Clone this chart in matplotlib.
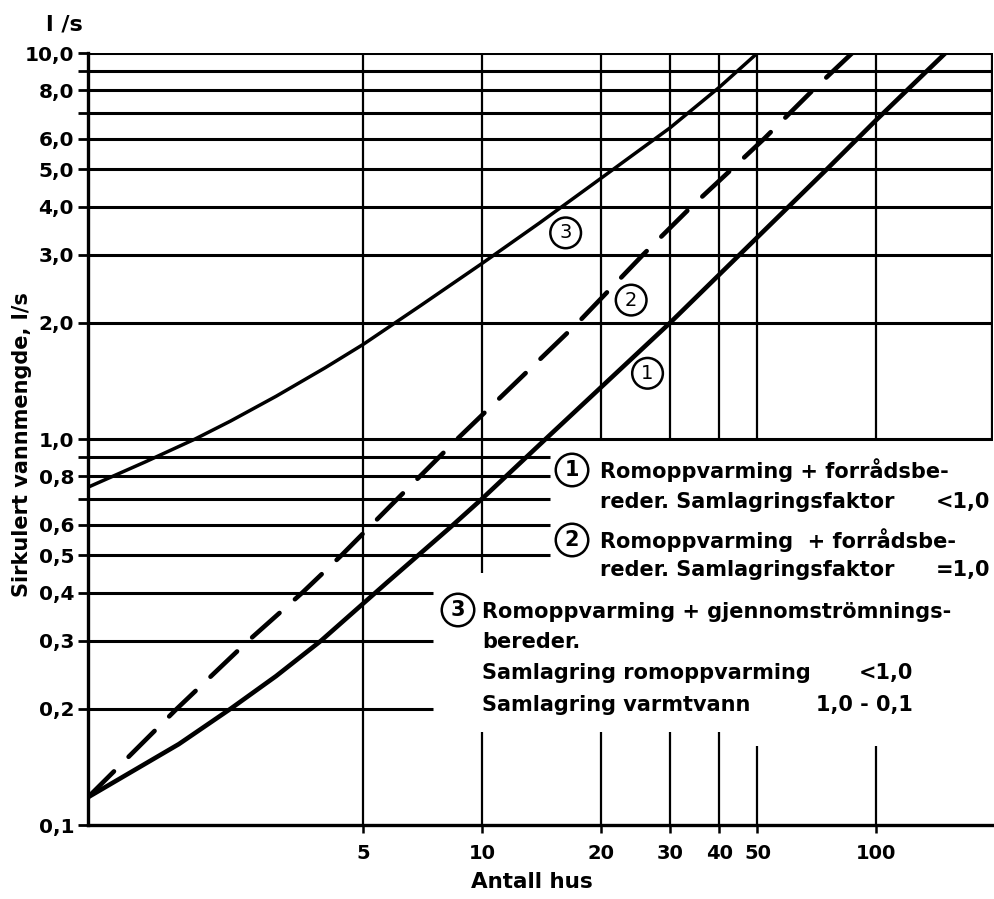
import matplotlib
matplotlib.use('Agg')
import matplotlib.pyplot as plt

# kurver lest av diagrammet (antall hus -> l/s)
kurve1_x = [1, 1.7, 2.3, 3.0, 3.9, 5.74, 8.3, 10, 14.5, 30, 45, 60, 75, 100, 150]
kurve1_y = [0.118, 0.162, 0.2, 0.243, 0.3, 0.425, 0.59, 0.7, 1.0, 2.0, 3.0, 4.0, 5.0, 6.7, 10.0]

kurve2_x = [1, 1.68, 2.55, 3.5, 4.4, 6.1, 8.65, 17.5, 25.6, 34, 43, 52, 69, 87]
kurve2_y = [0.118, 0.2, 0.3, 0.4, 0.5, 0.7, 1.0, 2.0, 3.0, 4.0, 5.0, 6.0, 8.0, 10.0]

kurve3_x = [1, 1.4, 1.87, 2.3, 3, 4, 5, 7, 10, 14, 20, 30, 40, 50]
kurve3_y = [0.75, 0.873, 1.0, 1.113, 1.29, 1.53, 1.76, 2.22, 2.85, 3.63, 4.73, 6.4, 8.15, 10.0]

y_ticks = [0.1, 0.2, 0.3, 0.4, 0.5, 0.6, 0.7, 0.8, 0.9, 1, 2, 3, 4, 5, 6, 7, 8, 9, 10]
y_labels = ['0,1', '0,2', '0,3', '0,4', '0,5', '0,6', '', '0,8', '', '1,0',
            '2,0', '3,0', '4,0', '5,0', '6,0', '', '8,0', '', '10,0']
x_ticks = [5, 10, 20, 30, 40, 50, 100]
x_labels = ['5', '10', '20', '30', '40', '50', '100']

W, H = 995, 899
plt.rcParams['font.family'] = ['DejaVu Sans']
fig = plt.figure(figsize=(W / 100, H / 100), dpi=100)
ax = fig.add_axes([88 / W, 1 - 825 / H, (993 - 88) / W, (825 - 53) / H])
ax.set_xscale('log')
ax.set_yscale('log')
x0, x1 = 1, 198
ax.set_xlim(x0, x1)
ax.set_ylim(0.1, 10)


def fp(x, y):
    return x / W, 1 - y / H


# rutenett
gk = dict(color='black', lw=2.2, zorder=1)
ax.hlines([1, 2, 3, 4, 5, 6, 7, 8, 9, 10], x0, x1, **gk)
ax.hlines([0.5, 0.6, 0.7, 0.8, 0.9], x0, 14.9, **gk)
ax.hlines([0.2, 0.3, 0.4], x0, 7.5, **gk)
vk = dict(color='black', lw=1.6, zorder=1)
ax.vlines(5, 0.1, 10, **vk)
ax.vlines(10, 0.45, 10, **vk)
ax.vlines([20, 30, 40, 50, 100], 1, 10, **vk)
ax.vlines([10, 20, 30, 40], 0.1, 0.174, **vk)
ax.vlines([50, 100], 0.1, 0.16, **vk)
ax.vlines(x1 * 0.995, 1, 10, **vk)

# kurver
ax.plot(kurve1_x, kurve1_y, color='black', lw=3.3, solid_capstyle='round',
        solid_joinstyle='round', zorder=3)
ax.plot(kurve2_x, kurve2_y, color='black', lw=3.3, linestyle=(0, (8, 4.5)),
        dash_capstyle='round', zorder=3)
ax.plot(kurve3_x, kurve3_y, color='black', lw=2.5, solid_joinstyle='round', zorder=3)

sirkel = dict(boxstyle='circle,pad=0.3', fc='white', ec='black', lw=1.8)
ax.text(16.3, 3.42, '3', fontsize=14, ha='center', va='center', bbox=sirkel, zorder=4)
ax.text(23.9, 2.29, '2', fontsize=14, ha='center', va='center', bbox=sirkel, zorder=4)
ax.text(26.3, 1.48, '1', fontsize=14, ha='center', va='center', bbox=sirkel, zorder=4)

# akser
for s in ['top', 'right']:
    ax.spines[s].set_visible(False)
ax.spines['left'].set_linewidth(2.4)
ax.spines['bottom'].set_linewidth(2.4)
ax.minorticks_off()
ax.set_yticks(y_ticks)
ax.set_yticklabels(y_labels, fontsize=14.5, fontweight='bold')
ax.set_xticks(x_ticks)
ax.set_xticklabels(x_labels, fontsize=14, fontweight='bold')
ax.tick_params(axis='y', which='major', length=7, width=2, pad=3)
ax.tick_params(axis='x', which='major', length=6, width=1.8, pad=8)
ax.tick_params(which='minor', length=0)

fig.text(*fp(64, 25), 'l /s', fontsize=16, fontweight='bold', ha='center', va='center')
fig.text(*fp(22, 445), 'Sirkulert vannmengde, l/s', fontsize=15, fontweight='bold',
         rotation=90, ha='center', va='center')
fig.text(*fp(532, 882), 'Antall hus', fontsize=15.5, fontweight='bold', ha='center', va='center')

# forklaring
tk = dict(fontsize=15, fontweight='bold', va='center')
fig.text(*fp(572, 470), '1', ha='center', bbox=sirkel, **tk)
fig.text(*fp(600, 470), 'Romoppvarming + forrådsbe-', **tk)
fig.text(*fp(600, 502), 'reder. Samlagringsfaktor', **tk)
fig.text(*fp(990, 502), '<1,0', ha='right', **tk)

fig.text(*fp(572, 540), '2', ha='center', bbox=sirkel, **tk)
fig.text(*fp(600, 540), 'Romoppvarming  + forrådsbe-', **tk)
fig.text(*fp(600, 570), 'reder. Samlagringsfaktor', **tk)
fig.text(*fp(990, 570), '=1,0', ha='right', **tk)

fig.text(*fp(458, 610), '3', ha='center', bbox=sirkel, **tk)
fig.text(*fp(482, 612), 'Romoppvarming + gjennomströmnings-', **tk)
fig.text(*fp(482, 642), 'bereder.', **tk)
fig.text(*fp(482, 673), 'Samlagring romoppvarming', **tk)
fig.text(*fp(913, 673), '<1,0', ha='right', **tk)
fig.text(*fp(482, 705), 'Samlagring varmtvann', **tk)
fig.text(*fp(913, 705), '1,0 - 0,1', ha='right', **tk)

fig.savefig('out.png', dpi=100)
